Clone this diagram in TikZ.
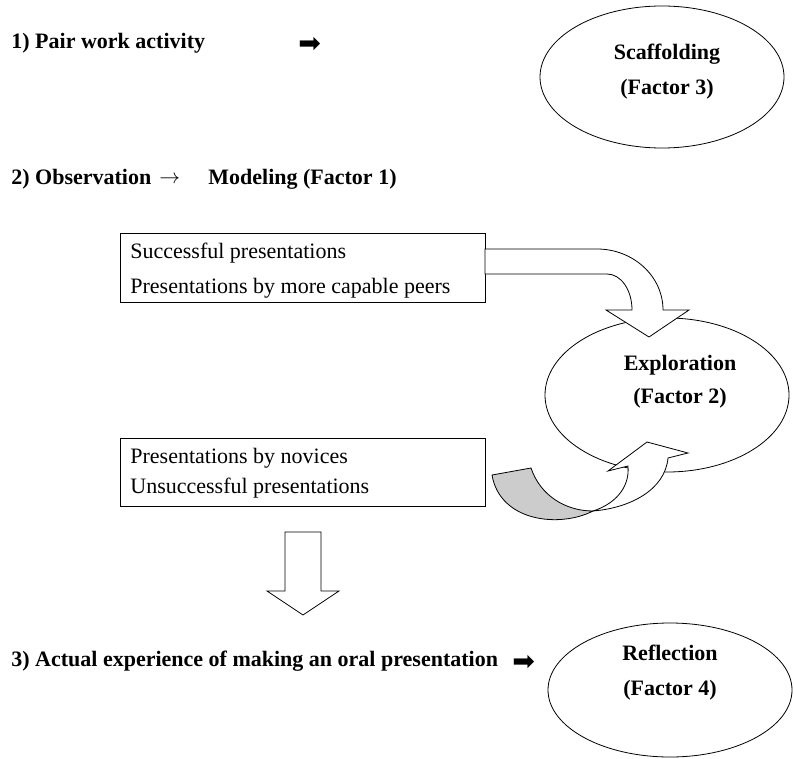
\documentclass[tikz,border=0pt]{standalone}
\usepackage{fontspec}
\setmainfont{Liberation Serif}
\newfontfamily\symfont{DejaVu Sans}
\usetikzlibrary{shapes.geometric}
\begin{document}
\begin{tikzpicture}[x=1pt,y=-1pt,line width=0.8pt,
  head/.style={anchor=base west,inner sep=0pt,font=\fontsize{22}{26}\selectfont\bfseries},
  boxtxt/.style={anchor=base west,inner sep=0pt,font=\fontsize{22}{26}\selectfont},
  ctrtxt/.style={anchor=base,inner sep=0pt,font=\fontsize{22}{26}\selectfont\bfseries},
  bigarrow/.style={anchor=base west,inner sep=0pt,font=\fontsize{27}{30}\symfont},
  factor/.style={draw,ellipse,inner sep=0pt},
  txtbox/.style={draw,rectangle,anchor=north west,inner sep=0pt,minimum width=365pt,minimum height=69pt},
  blockarrow/.style={draw,fill=white,line join=miter}
]
\useasboundingbox (0,0) rectangle (794,759);

% row 1
\node[head] (t1) at (11,49) {1) Pair work activity};
\node[bigarrow] (a1) at (298,53) {➡};
\node[factor,minimum width=244pt,minimum height=142pt] (scaf) at (662,77) {};
\node[ctrtxt] (scaf1) at (667,60) {Scaffolding};
\node[ctrtxt] (scaf2) at (667,95) {(Factor 3)};

% row 2
\node[head] (t2a) at (11,185) {2) Observation};
\node[anchor=base west,inner sep=0pt,font=\fontsize{20}{24}\selectfont] (t2arr) at (159,184) {$\rightarrow$};
\node[head] (t2b) at (208,185) {Modeling (Factor 1)};

% boxes
\node[txtbox] (box1) at (120,233) {};
\node[boxtxt] (b1a) at (130,258) {Successful presentations};
\node[boxtxt] (b1b) at (130,293) {Presentations by more capable peers};
\node[txtbox,minimum height=68pt] (box2) at (120,438) {};
\node[boxtxt] (b2a) at (130,463) {Presentations by novices};
\node[boxtxt] (b2b) at (130,493) {Unsuccessful presentations};

% exploration ellipse
\node[factor,minimum width=244pt,minimum height=154pt] (expl) at (667,395) {};
\node[ctrtxt] (expl1) at (680,370) {Exploration};
\node[ctrtxt] (expl2) at (680,403) {(Factor 2)};

% curved arrow from box1 to exploration
\draw[blockarrow] (485,249) -- (597,249)
  .. controls (633,249) and (663,276) .. (663,310)
  -- (689,310) -- (649,337) -- (606,310) -- (632,310)
  .. controls (632,290) and (621,274) .. (607,274)
  -- (485,274) -- cycle;

% curved arrow from box2 to exploration (gray underside + white part)
\draw[draw,fill=gray!40,line join=miter] (492,475) -- (531,468)
  .. controls (540,495) and (565,511) .. (593,511)
  .. controls (560,528) and (500,522) .. (492,475) -- cycle;
\draw[blockarrow] (593,511)
  .. controls (630,508) and (665,490) .. (668,458)
  -- (688,453) -- (647,442) -- (608,471) -- (628,466)
  .. controls (630,490) and (612,505) .. (593,511) -- cycle;

% down arrow
\draw[blockarrow] (285,532) -- (321,532) -- (321,591) -- (339,591)
  -- (303,615) -- (267,591) -- (285,591) -- cycle;

% row 3
\node[head] (t3) at (11,666) {3) Actual experience of making an oral presentation};
\node[bigarrow] (a3) at (512,670) {➡};
\node[factor,minimum width=244pt,minimum height=134pt] (refl) at (670,690) {};
\node[ctrtxt] (refl1) at (670,660) {Reflection};
\node[ctrtxt] (refl2) at (670,695) {(Factor 4)};
\end{tikzpicture}
\end{document}
